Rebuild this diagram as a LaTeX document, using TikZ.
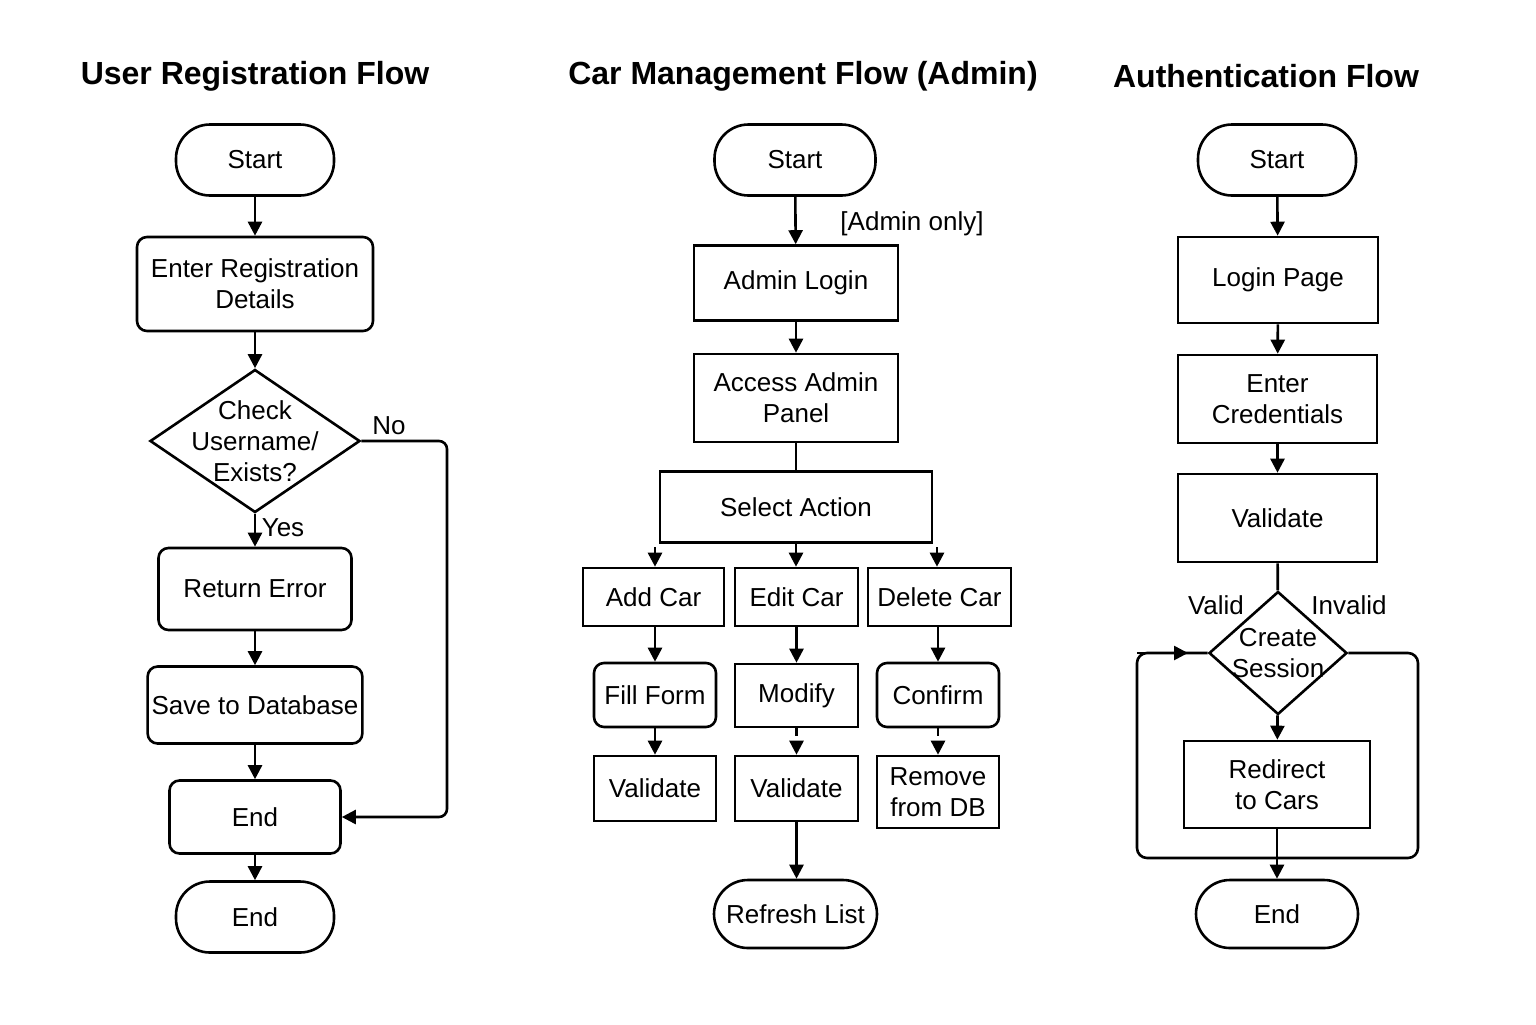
\documentclass[tikz,border=0pt]{standalone}
\usepackage{fontspec}
\setmainfont{Liberation Sans}
\usetikzlibrary{arrows.meta,shapes.geometric}
\begin{document}
\begin{tikzpicture}[x=0.5pt,y=-0.5pt,
  every node/.style={font=\fontsize{13}{15.5}\selectfont},
  title/.style={font=\fontsize{16}{19}\selectfont\bfseries},
  box/.style={draw,line width=1.3pt,align=center,inner sep=2pt},
  rbox/.style={box,rounded corners=5pt},
  term/.style={box,rounded corners=17pt,minimum width=79pt,minimum height=35.5pt},
  decision/.style={draw,line width=1.3pt,diamond,inner sep=0pt},
  arr/.style={line width=1.3pt,-{Triangle[length=7pt,width=7pt]}},
  link/.style={line width=1.3pt}]
  \useasboundingbox (0,0) rectangle (1536,1024);
  % user registration
  \node[title] (t1) at (255,76) {User Registration Flow};
  \node[term] (s1) at (255,160) {Start};
  \node[rbox,minimum width=118pt,minimum height=47pt] (reg) at (255,284) {Enter Registration\\Details};
  \node[decision,minimum width=105pt,minimum height=71.5pt,
    label={[align=center]center:Check\\Username/\\Exists?}] (chk) at (255,441) {};
  \node[rbox,minimum width=96.5pt,minimum height=41pt] (err) at (255,589) {Return Error};
  \node[rbox,minimum width=105.5pt,minimum height=38.5pt] (save) at (255,705) {Save to Database};
  \node[rbox,minimum width=85.5pt,minimum height=36.5pt] (end1) at (255,817) {End};
  \node[term] (fin1) at (255,917) {End};
  \node (nolab) at (389,426) {No};
  \node (yeslab) at (283,528) {Yes};
  \coordinate (no1) at (447,441);
  \coordinate (no2) at (447,817);
  \draw[arr] (s1) -- (reg);
  \draw[arr] (reg) -- (chk);
  \draw[arr] (chk) -- (err);
  \draw[arr] (err) -- (save);
  \draw[arr] (save) -- (end1);
  \draw[arr] (end1) -- (fin1);
  \draw[arr,rounded corners=4pt] (chk.east) -- (no1) -- (no2) -- (end1.east);
  % car management
  \node[title] (t2) at (803,76) {Car Management Flow (Admin)};
  \node[term,minimum width=80.5pt] (s2) at (795,160) {Start};
  \node (adm) at (912,224) {[Admin only]};
  \node[box,minimum width=102pt,minimum height=37.5pt] (login2) at (796,283) {Admin Login};
  \node[box,minimum width=102pt,minimum height=44pt] (panel) at (796,398) {Access Admin\\Panel};
  \node[box,minimum width=136pt,minimum height=35.5pt] (sel) at (796,507) {Select Action};
  \node[box,minimum width=70.5pt,minimum height=29pt] (add) at (653.5,597) {Add Car};
  \node[box,minimum width=61.5pt,minimum height=29pt] (edit) at (796.5,597) {Edit Car};
  \node[box,minimum width=71.5pt,minimum height=29pt] (del) at (939.5,597) {Delete Car};
  \node[rbox,minimum width=61pt,minimum height=32pt] (fill) at (655,695) {Fill Form};
  \node[box,minimum width=61.5pt,minimum height=31.5pt] (mod) at (796.5,695.5) {Modify};
  \node[rbox,minimum width=61pt,minimum height=32pt] (conf) at (938,695) {Confirm};
  \node[box,minimum width=61pt,minimum height=32.5pt] (val1) at (655,788.5) {Validate};
  \node[box,minimum width=61.5pt,minimum height=32.5pt] (val2) at (796.5,788.5) {Validate};
  \node[box,minimum width=61pt,minimum height=36pt] (rem) at (938,792) {Remove\\from DB};
  \node[term,minimum width=81.5pt,minimum height=34pt] (refr) at (795.5,914) {Refresh List};
  \coordinate (sa) at (655,547);
  \coordinate (sc) at (937,547);
  \draw[arr] (s2) -- (login2);
  \draw[arr] (login2) -- (panel);
  \draw[link] (panel) -- (sel);
  \draw[arr] (sa) -- (sa |- add.north);
  \draw[arr] (sel.south) -- (sel.south |- edit.north);
  \draw[arr] (sc) -- (sc |- del.north);
  \draw[arr] (add.south -| fill) -- (fill);
  \draw[arr] (fill) -- (val1);
  \draw[arr] (edit.south -| mod) -- (mod);
  \draw[arr,dash pattern=on 4pt off 3pt] (mod) -- (val2);
  \draw[arr] (val2) -- (val2 |- refr.north);
  \draw[arr] (del.south -| conf) -- (conf);
  \draw[arr,dash pattern=on 4pt off 3pt] (conf) -- (rem);
  % authentication
  \node[title] (t3) at (1266,76) {Authentication Flow};
  \node[term] (s3) at (1277,160) {Start};
  \node[box,minimum width=100pt,minimum height=43pt] (lp) at (1278,280) {Login Page};
  \node[box,minimum width=99.5pt,minimum height=44pt] (cred) at (1277.5,399) {Enter\\Credentials};
  \node[box,minimum width=99.5pt,minimum height=44pt] (val3) at (1277.5,518) {Validate};
  \node[decision,minimum width=69pt,minimum height=61.5pt,
    label={[align=center]center:Create\\Session}] (cs) at (1278,653) {};
  \node[box,minimum width=93pt,minimum height=43.5pt] (redir) at (1277,784.5) {Redirect\\to Cars};
  \node[term,minimum width=81pt,minimum height=34pt] (fin3) at (1277,914) {End};
  \node (vlab) at (1216,605) {Valid};
  \node (ilab) at (1349,605) {Invalid};
  \coordinate (lpR) at (1418,653);
  \coordinate (lpRB) at (1418,858);
  \coordinate (lpLB) at (1137,858);
  \coordinate (lpL) at (1137,653);
  \coordinate (lpA) at (1188,653);
  \draw[arr] (s3) -- (lp);
  \draw[arr] (lp) -- (cred);
  \draw[arr] (cred) -- (val3);
  \draw[link] (val3) -- (cs);
  \draw[arr] (cs) -- (redir);
  \draw[arr] (redir) -- (fin3);
  \draw[link,rounded corners=5pt] (cs.east) -- (lpR) -- (lpRB) -- (lpLB) -- (lpL) -- (cs.west);
  \draw[arr] (lpL) -- (lpA);
\end{tikzpicture}
\end{document}
